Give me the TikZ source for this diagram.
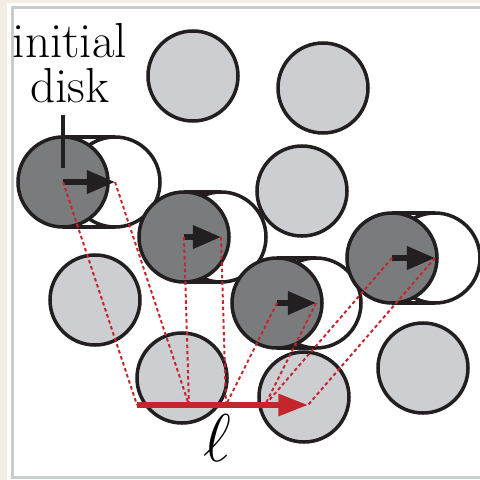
\RequirePackage{fix-cm}
\documentclass[tikz,border=0pt]{standalone}
\usetikzlibrary{arrows.meta}
\definecolor{paper}{HTML}{F3EEE4}
\definecolor{framegray}{HTML}{C8CCCF}
\definecolor{lightfill}{HTML}{CCCED1}
\definecolor{darkfill}{HTML}{7A7B7D}
\definecolor{ink}{HTML}{231F20}
\definecolor{linered}{HTML}{C4262E}
\tikzset{
	lightdisk/.style={draw=ink, line width=2.5pt, fill=lightfill},
	darkdisk/.style={draw=ink, line width=2.5pt, fill=darkfill},
	ghostdisk/.style={draw=ink, line width=2.5pt, fill=white},
	tracedash/.style={draw=linered, line width=1.4pt, dash pattern=on 2.5pt off 2pt},
	pusharrow/.style={draw=ink, line width=3.8pt, -{Triangle[length=20pt,width=16pt]}}
}
\begin{document}
\begin{tikzpicture}[x=0.025cm, y=-0.025cm]
	\useasboundingbox (0,0) rectangle (480,480);
	\fill [paper] (0,0) rectangle (480,480);
	\fill [white] (7,3) rectangle (480,480);
	\draw [framegray, line width=2.2pt] (480,7.5) -- (12.5,7.5) -- (12.5,477.5) -- (480,477.5);

	\foreach \x/\y in {193/76, 323/88, 302/191, 95/300, 182/378, 304/397, 423/368}
		\draw [lightdisk] (\x,\y) circle[radius=45];

	\foreach \n/\x/\y/\d in {a/63/182/52, b/184/237/37, c/277/303/39, d/392/258/43} {
		\coordinate (\n0) at (\x,\y);
		\coordinate (\n1) at (\x+\d,\y);
		\fill [white] (\x,\y-45) rectangle (\x+\d,\y+45);
		\draw [ghostdisk] (\n1) circle[radius=45];
		\draw [ink, line width=2.5pt] (\x,\y-45) -- (\x+\d,\y-45) (\x,\y+45) -- (\x+\d,\y+45);
		\draw [darkdisk] (\n0) circle[radius=45];
		\draw [pusharrow] (\n0) -- (\n1);
	}

	\coordinate (p0) at (137,405);
	\coordinate (p1) at (189,405);
	\coordinate (p2) at (226,405);
	\coordinate (p3) at (265,405);
	\coordinate (p4) at (308,405);
	\draw [tracedash] (a0) -- (p0) (a1) -- (p1) (b0) -- (p1) (b1) -- (p2)
		(c0) -- (p2) (c1) -- (p3) (d0) -- (p3) (d1) -- (p4);
	\draw [linered, line width=3.8pt, -{Triangle[length=21pt,width=15pt]}] (p0) -- (p4);
	\node (ell) at (217,438) {\fontsize{48}{48}\selectfont$\ell$};

	\node (label) [anchor=north, inner sep=0, align=center, font=\fontsize{35}{32}\selectfont]
		at (70,23) {initial\\disk};
	\coordinate (tick) at (63,168);
	\draw [ink, line width=3.5pt] (label.south -| a0) ++(0,12) -- (tick);
\end{tikzpicture}
\end{document}
